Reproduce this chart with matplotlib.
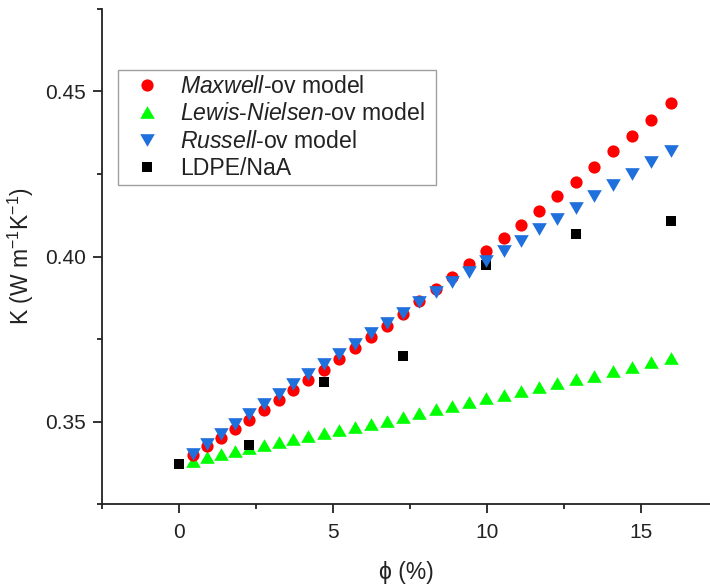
import matplotlib
matplotlib.use("Agg")
import matplotlib.pyplot as plt
from matplotlib.ticker import MultipleLocator, FormatStrFormatter

plt.rcParams['font.family'] = ['Liberation Sans', 'DejaVu Sans']
plt.rcParams['mathtext.fontset'] = 'custom'
plt.rcParams['mathtext.rm'] = 'Liberation Sans'
plt.rcParams['mathtext.it'] = 'Liberation Sans:italic'
plt.rcParams['mathtext.default'] = 'regular'

# ---- data ----
phi_model = [0.45, 0.90, 1.36, 1.82, 2.28, 2.75, 3.23, 3.71, 4.20, 4.70,
             5.20, 5.71, 6.22, 6.74, 7.26, 7.79, 8.33, 8.87, 9.42, 9.97,
             10.54, 11.10, 11.68, 12.27, 12.87, 13.47, 14.08, 14.70, 15.33, 15.97]
k_maxwell = [0.3397, 0.3425, 0.3451, 0.3477, 0.3506, 0.3535, 0.3566, 0.3596, 0.3626, 0.3657,
             0.3689, 0.3722, 0.3755, 0.3789, 0.3826, 0.3865, 0.3901, 0.3939, 0.3978, 0.4016,
             0.4055, 0.4096, 0.4139, 0.4182, 0.4226, 0.4271, 0.4319, 0.4366, 0.4414, 0.4465]
k_lewis = [0.3380, 0.3391, 0.3401, 0.3410, 0.3420, 0.3428, 0.3437, 0.3446, 0.3455, 0.3464,
           0.3473, 0.3483, 0.3493, 0.3503, 0.3515, 0.3525, 0.3537, 0.3548, 0.3558, 0.3570,
           0.3581, 0.3592, 0.3604, 0.3616, 0.3628, 0.3638, 0.3652, 0.3664, 0.3679, 0.3691]
k_russell = [0.3402, 0.3432, 0.3463, 0.3493, 0.3523, 0.3554, 0.3582, 0.3614, 0.3645, 0.3675,
             0.3705, 0.3735, 0.3768, 0.3799, 0.3830, 0.3861, 0.3893, 0.3923, 0.3954, 0.3986,
             0.4016, 0.4048, 0.4082, 0.4115, 0.4148, 0.4184, 0.4216, 0.4251, 0.4287, 0.4321]
phi_exp = [0.0, 2.28, 4.70, 7.26, 9.97, 12.87, 15.97]
k_exp = [0.337, 0.3428, 0.3619, 0.3699, 0.3975, 0.4068, 0.4109]

labels = [r'$\mathit{Maxwell}$-ov model',
          r'$\mathit{Lewis}$-$\mathit{Nielsen}$-ov model',
          r'$\mathit{Russell}$-ov model',
          'LDPE/NaA']

fig = plt.figure(figsize=(7.10, 5.88), dpi=100)
ax = fig.add_axes([102/710, 84/588, 608/710, 495/588])

tri_up = [(-1, -0.866), (1, -0.866), (0, 0.866)]
tri_dn = [(-1, 0.866), (1, 0.866), (0, -0.866)]

l_lew, = ax.plot(phi_model, k_lewis, linestyle='none', marker=tri_up, markersize=10.5,
                 color='#00ff00', markeredgewidth=0, zorder=2)
l_exp, = ax.plot(phi_exp, k_exp, linestyle='none', marker='s', markersize=7.8,
                 color='black', markeredgewidth=0, zorder=3)
l_max, = ax.plot(phi_model, k_maxwell, linestyle='none', marker='o', markersize=8.8,
                 color='#ff0000', markeredgewidth=0, zorder=4)
l_rus, = ax.plot(phi_model, k_russell, linestyle='none', marker=tri_dn, markersize=10.5,
                 color='#1f6fdc', markeredgewidth=0, zorder=5)

ax.set_xlim(-2.5, 17.23)
ax.set_ylim(0.325, 0.475)

ax.spines['top'].set_visible(False)
ax.spines['right'].set_visible(False)
for s in ('left', 'bottom'):
    ax.spines[s].set_linewidth(1.3)
    ax.spines[s].set_color('#222222')

ax.xaxis.set_major_locator(MultipleLocator(5))
ax.xaxis.set_minor_locator(MultipleLocator(2.5))
ax.yaxis.set_major_locator(MultipleLocator(0.05))
ax.yaxis.set_minor_locator(MultipleLocator(0.025))
ax.yaxis.set_major_formatter(FormatStrFormatter('%.2f'))

ax.tick_params(axis='both', which='major', direction='out', length=6.5, width=1.3,
               labelsize=15, color='#222222', labelcolor='#222222')
ax.tick_params(axis='both', which='minor', direction='out', length=3.5, width=1.3,
               color='#222222')
ax.tick_params(axis='x', which='major', pad=7)
ax.tick_params(axis='y', which='major', pad=5)

ax.set_xlabel('ϕ (%)', fontsize=16.5, color='#222222')
ax.set_ylabel(r'K (W m$^{-1}$K$^{-1}$)', fontsize=16.5, color='#222222')
ax.xaxis.set_label_coords(0.5, -0.115)
ax.yaxis.set_label_coords(-0.108, 0.5)

leg_x0 = 16/608
leg_w = (436-118)/608
leg_top = (504-70)/495
leg = ax.legend([l_max, l_lew, l_rus, l_exp], labels,
                loc='upper left', bbox_to_anchor=(leg_x0, leg_top - 0.3, leg_w, 0.3),
                mode='expand', borderaxespad=0, fontsize=16.6, numpoints=1,
                frameon=True, fancybox=False, edgecolor='#888888',
                borderpad=0.2, handlelength=2.12, handletextpad=0.37,
                labelspacing=0.2)
leg.get_frame().set_linewidth(1.0)
for t in leg.get_texts():
    t.set_color('#222222')

fig.savefig('out.png', dpi=100)
